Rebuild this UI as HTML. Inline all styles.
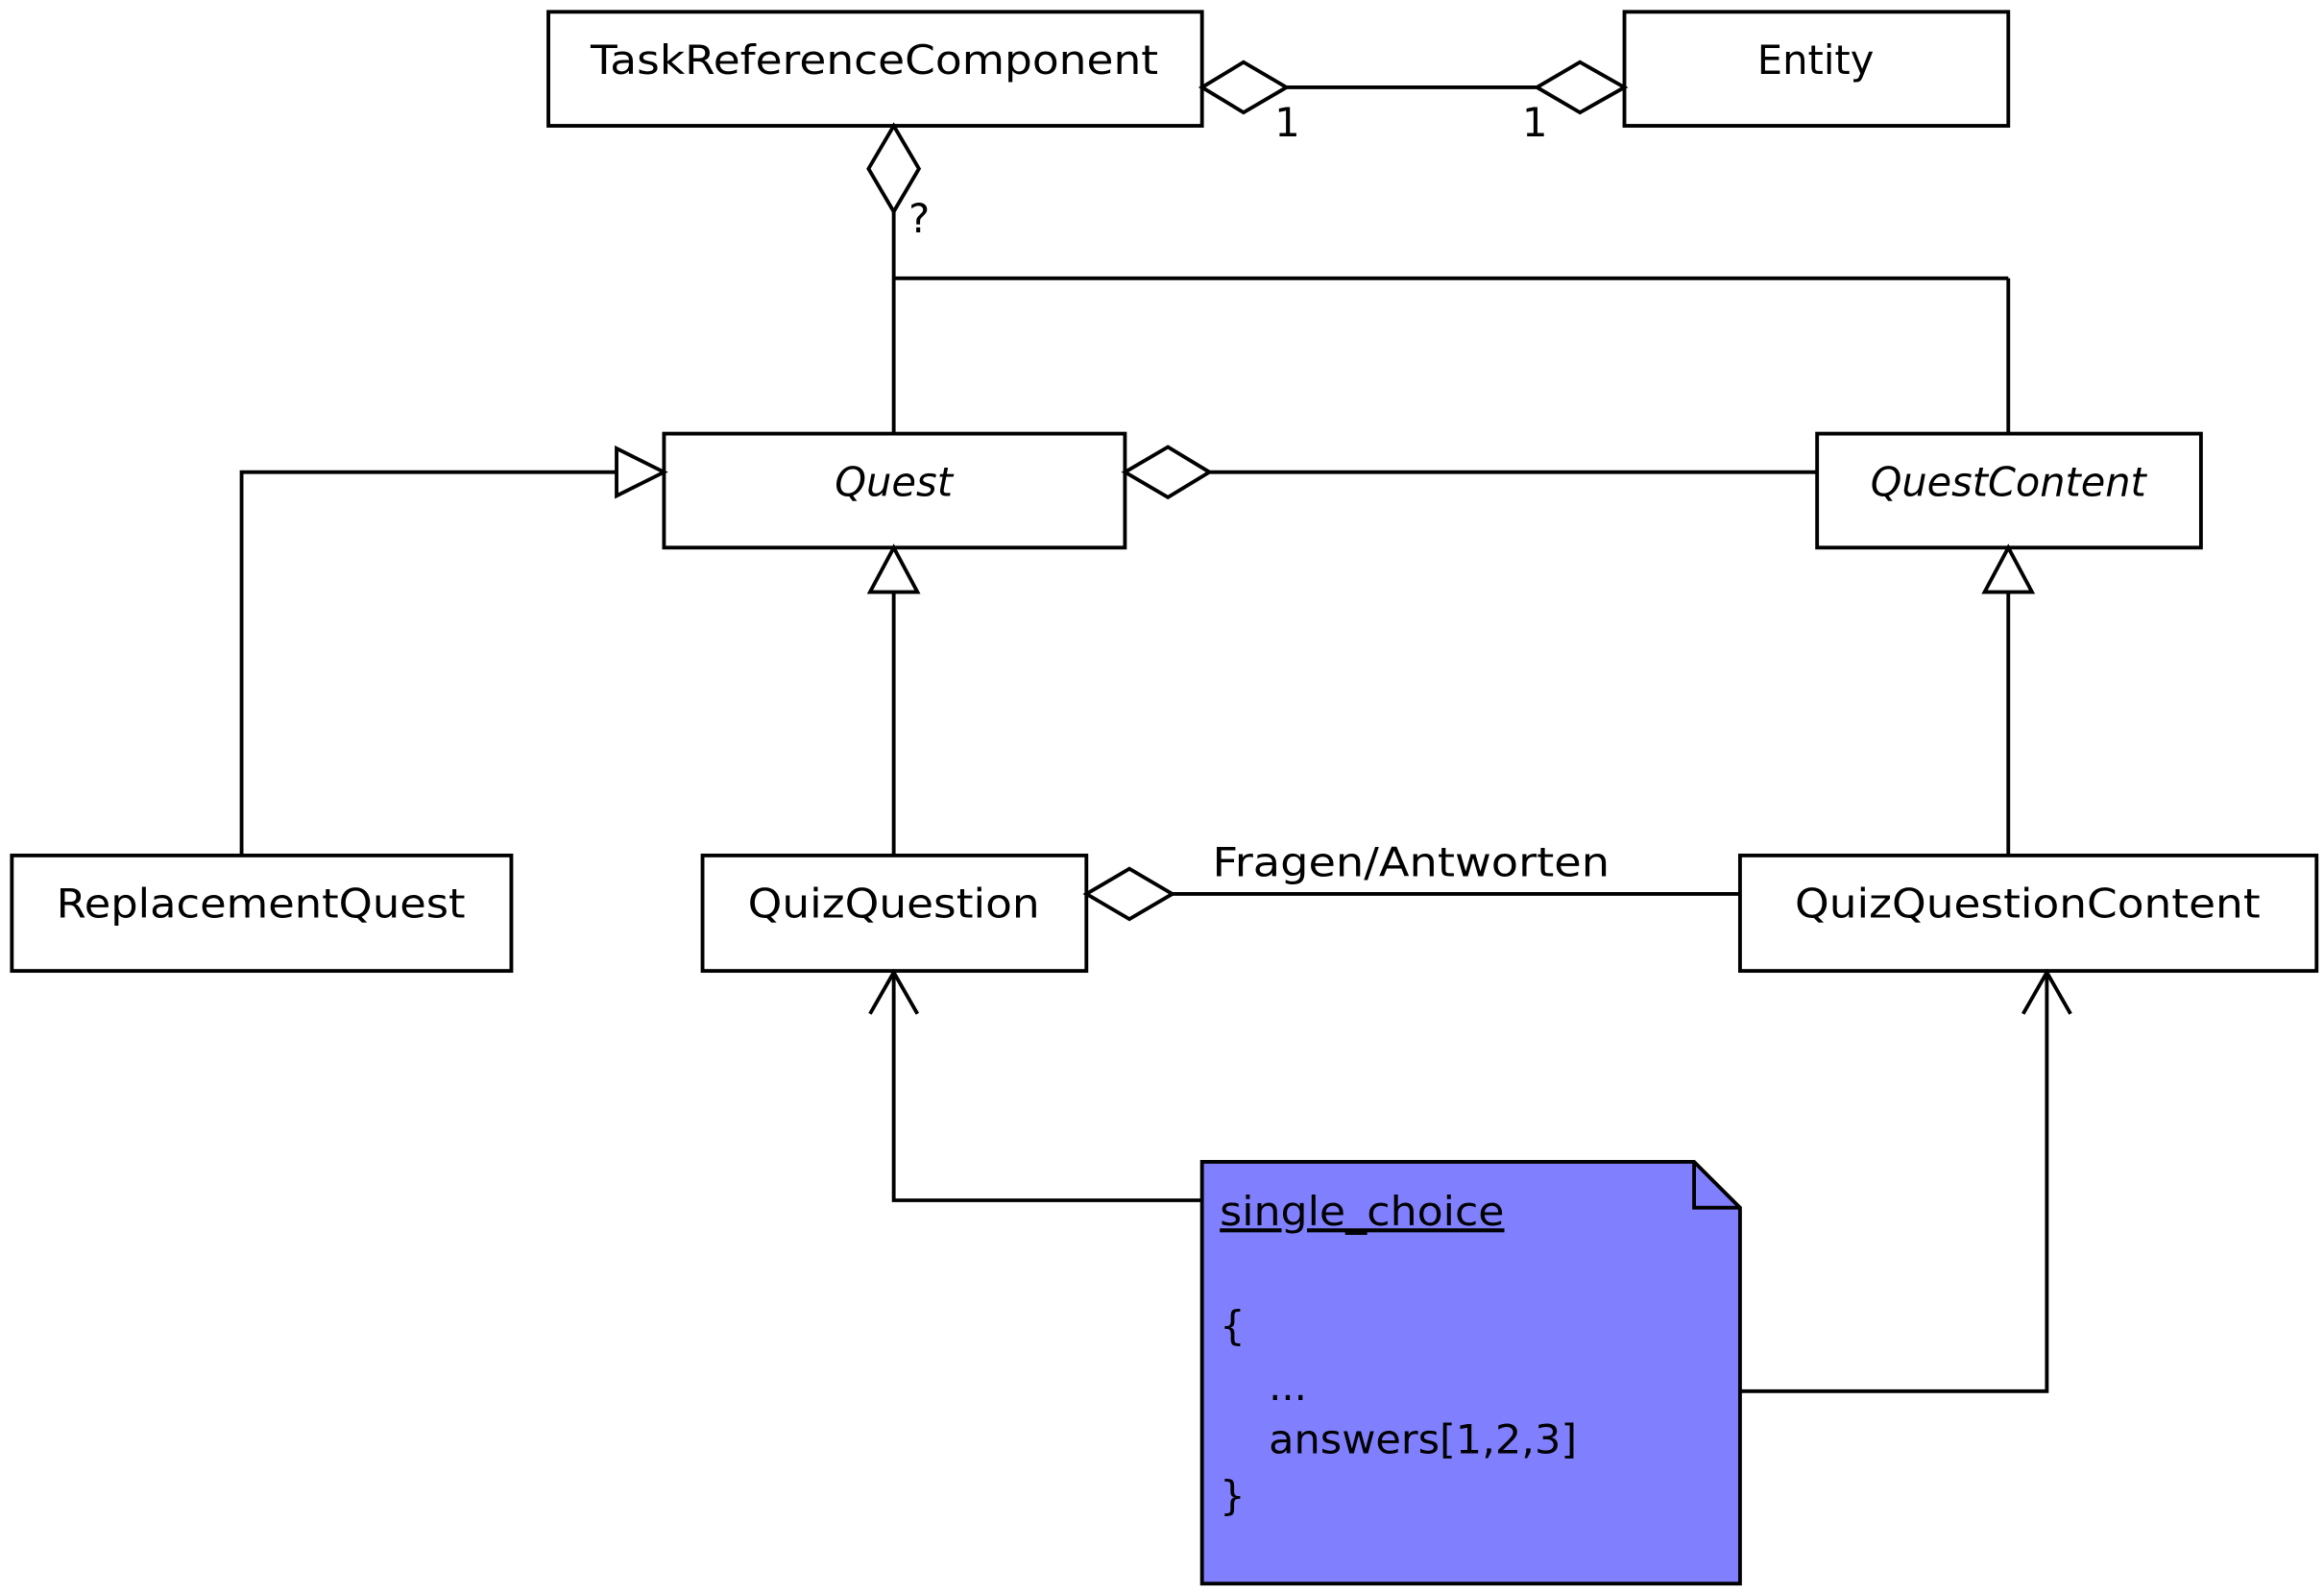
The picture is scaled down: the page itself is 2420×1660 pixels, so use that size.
<!DOCTYPE html>
<html><head><meta charset="utf-8"><style>
html,body{margin:0;padding:0;background:#fff;}
svg{display:block;}
text{font-family:"DejaVu Sans","Liberation Sans",sans-serif;font-size:27px;fill:#000;}
</style></head><body>
<svg width="2420" height="1660" viewBox="0 0 1568 1077" preserveAspectRatio="none" xmlns="http://www.w3.org/2000/svg">
<g fill="none" stroke="#000" stroke-width="2.5">
<rect x="370" y="8" width="441" height="77" fill="#fff"/>
<rect x="1096" y="8" width="259" height="77" fill="#fff"/>
<rect x="448" y="293" width="311" height="77" fill="#fff"/>
<rect x="1226" y="293" width="259" height="77" fill="#fff"/>
<rect x="8" y="578" width="337" height="78" fill="#fff"/>
<rect x="474" y="578" width="259" height="78" fill="#fff"/>
<rect x="1174" y="578" width="389" height="78" fill="#fff"/>
<!-- TRC - Entity -->
<polygon points="811,59 839,42 868,59 839,76" fill="#fff"/>
<line x1="868" y1="59" x2="1037" y2="59"/>
<polygon points="1037,59 1066,42 1096,59 1066,76" fill="#fff"/>
<!-- TRC vertical diamond -->
<polygon points="603,85 620,114 603,143 586,114" fill="#fff"/>
<line x1="603" y1="143" x2="603" y2="293"/>
<line x1="603" y1="188" x2="1355" y2="188"/>
<line x1="1355" y1="188" x2="1355" y2="293"/>
<!-- Quest - QuestContent -->
<polygon points="759,319 788,302 816,319 788,336" fill="#fff"/>
<line x1="816" y1="319" x2="1226" y2="319"/>
<!-- Replacement generalization -->
<polyline points="163,578 163,319 416,319"/>
<polygon points="448,319 416,303 416,335" fill="#fff"/>
<!-- QuizQuestion generalization -->
<line x1="603" y1="400" x2="603" y2="578"/>
<polygon points="603,370 619,400 587,400" fill="#fff"/>
<line x1="1355" y1="400" x2="1355" y2="578"/>
<polygon points="1355,370 1371,400 1339,400" fill="#fff"/>
<!-- QuizQuestion - Content -->
<polygon points="733,604 762,587 791,604 762,621" fill="#fff"/>
<line x1="791" y1="604" x2="1174" y2="604"/>
<!-- note arrows -->
<polyline points="811,811 603,811 603,657"/>
<polyline points="587,685 603,657 619,685"/>
<polyline points="1174,940 1381,940 1381,657"/>
<polyline points="1365,685 1381,657 1397,685"/>
<!-- note -->
<polygon points="811,785 1143,785 1174,816 1174,1070 811,1070" fill="#8080ff"/>
<polyline points="1143,785 1143,816 1174,816"/>
</g>
<text x="590" y="50" text-anchor="middle" textLength="383" lengthAdjust="spacingAndGlyphs">TaskReferenceComponent</text>
<text x="1225" y="50" text-anchor="middle">Entity</text>
<text x="603" y="335" text-anchor="middle" font-style="italic">Quest</text>
<text x="1355" y="335" text-anchor="middle" font-style="italic" textLength="186" lengthAdjust="spacingAndGlyphs">QuestContent</text>
<text x="176" y="620" text-anchor="middle" textLength="276" lengthAdjust="spacingAndGlyphs">ReplacementQuest</text>
<text x="603" y="620" text-anchor="middle" textLength="197" lengthAdjust="spacingAndGlyphs">QuizQuestion</text>
<text x="1368" y="620" text-anchor="middle" textLength="314" lengthAdjust="spacingAndGlyphs">QuizQuestionContent</text>
<text x="818" y="592" textLength="268" lengthAdjust="spacingAndGlyphs">Fragen/Antworten</text>
<text x="860" y="92">1</text>
<text x="1027" y="92">1</text>
<text x="613" y="157">?</text>
<text x="823" y="828" text-decoration="underline" textLength="192" lengthAdjust="spacingAndGlyphs">single_choice</text>
<text x="823" y="905">{</text>
<text x="856" y="946">...</text>
<text x="856" y="982" textLength="208" lengthAdjust="spacingAndGlyphs">answers[1,2,3]</text>
<text x="823" y="1020">}</text>
</svg>
</body></html>
